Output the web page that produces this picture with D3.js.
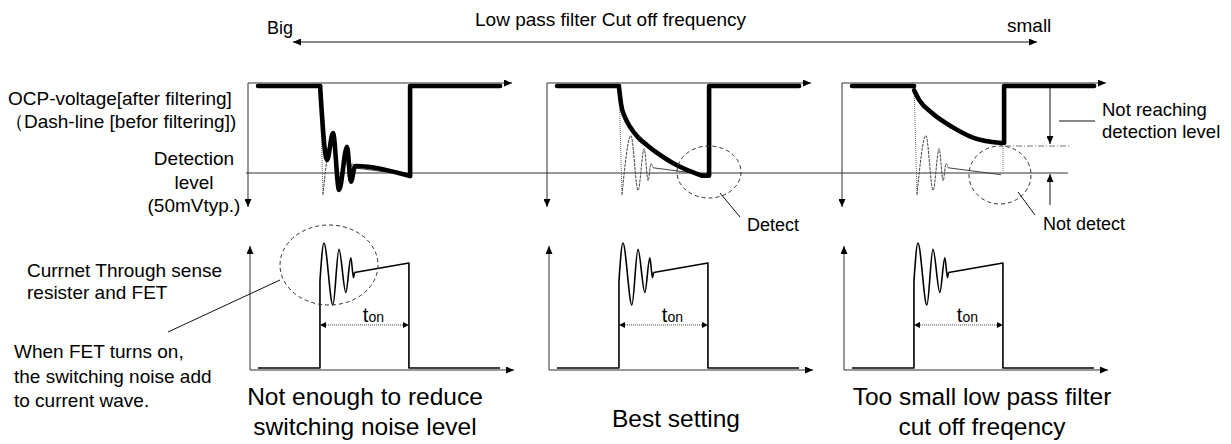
<!DOCTYPE html>
<html>
<head>
<meta charset="utf-8">
<script src="https://d3js.org/d3.v7.min.js"></script>
<style>
  body { margin: 0; background: #fff; }
  text { font-family: Arial, "Liberation Sans", sans-serif; fill: #000; }
</style>
</head>
<body>
<div id="chart"></div>
<script>
// ---- data (time 0..100 across a panel, level 1 = signal high / pulse top, 0 = detection level / zero current)
var topLabels = ["Big", "Low pass filter Cut off frequency", "small"];
var leftLabels = ["OCP-voltage[after filtering]", "（Dash-line [befor filtering])"];
var levelLabels = ["Detection", "level", "(50mVtyp.)"];
var currentLabels = ["Currnet Through sense", "resister and FET"];
var noteLabels = ["When FET turns on,", "the switching noise add", "to current wave."];
var captions = [["Not enough to reduce", "switching noise level"], ["Best setting"], ["Too small low pass filter", "cut off freqency"]];
var detectLabels = ["", "Detect", "Not detect"];
var reachLabels = ["Not reaching", "detection level"];

// switching instants (top: OCP voltage, bottom: current)
var vStart = 3.8, vOn = 27.3, vOff = 61.4, vEnd = 95.5;
var iStart = 3.0, iOn = 26.5, iOff = 60.2, iEnd = 94.7;

// unfiltered voltage after turn on (dt, level), same for all panels
var noiseT = [0, 1.1, 4.5, 7.2, 9.5, 11.0, 12.1, 12.9, 33.0];
var noiseV = [1, -0.25, 0.43, -0.2, 0.28, -0.09, 0.11, 0.06, -0.02];

// filtered voltage after turn on, one series per panel
var filtT = [
  [0, 2.65, 4.9, 7.2, 10.2, 11.7, 13.3, 34.1],
  [0, 0.76, 2.27, 4.17, 7.2, 10.6, 14.0, 17.4, 21.2, 26.1, 31.4],
  [0, 1.9, 6.8, 14.4, 22.0, 33.0]
];
var filtV = [
  [1, 0.15, 0.46, -0.195, 0.30, -0.10, 0.08, -0.034],
  [0.98, 0.79, 0.64, 0.53, 0.41, 0.32, 0.24, 0.17, 0.10, 0.03, -0.03],
  [0.95, 0.84, 0.69, 0.53, 0.41, 0.345]
];
var reachLevel = 0.31;

// current ringing after turn on (dt, level), same for all panels
var ringT = [0, 1.5, 4.9, 7.2, 9.8, 11.7, 12.7, 13.1];
var ringV = [0.83, 1.19, 0.6, 1.13, 0.72, 1.05, 0.86, 0.91];
var tonLevel = 0.41;

// ---- layout
var topX0 = [248, 547, 842], botX0 = [250, 549, 844], panelW = 264;
var topAxisY = 83, topAxisBottom = 207, botAxisY = 370, botAxisTop = 246;

var svg = d3.select("#chart").append("svg")
    .attr("width", 1231).attr("height", 444);

var defs = svg.append("defs");
function addMarker(id, len, wid) {
  defs.append("marker").attr("id", id)
      .attr("viewBox", "0 0 10 10").attr("preserveAspectRatio", "none")
      .attr("refX", 10).attr("refY", 5)
      .attr("markerUnits", "userSpaceOnUse")
      .attr("markerWidth", len).attr("markerHeight", wid)
      .attr("orient", "auto-start-reverse")
    .append("path").attr("d", "M0,0L10,5L0,10z").attr("fill", "#000");
}
addMarker("arr", 8, 7);
addMarker("arrS", 6, 6);
addMarker("arrD", 8, 7);

function line(x1, y1, x2, y2) {
  return svg.append("line").attr("x1", x1).attr("y1", y1).attr("x2", x2).attr("y2", y2)
      .attr("stroke", "#111").attr("stroke-width", 1);
}
function label(x, y, str, size, anchor) {
  return svg.append("text").attr("x", x).attr("y", y)
      .attr("font-size", size).attr("text-anchor", anchor || "start").text(str);
}

var yTop = d3.scaleLinear().domain([0, 1]).range([173, 86]);
var yBot = d3.scaleLinear().domain([0, 1]).range([368, 263]);

var linear = d3.line().curve(d3.curveLinear);
var smooth = d3.line().curve(d3.curveMonotoneX);

// top frequency arrow
line(293, 42, 1037, 42).attr("marker-start", "url(#arr)").attr("marker-end", "url(#arr)");
label(267, 34, topLabels[0], 18);
label(475, 26, topLabels[1], 19);
label(1007, 32, topLabels[2], 19);

// left labels
label(8, 105, leftLabels[0], 19);
label(5, 128, leftLabels[1], 19);
levelLabels.forEach(function(s, i) { label(194, 165 + i * 23.5, s, 19, "middle"); });
label(27, 277, currentLabels[0], 19);
label(27, 299, currentLabels[1], 19);
noteLabels.forEach(function(s, i) { label(14, 358 + i * 24.5, s, 19); });

// detection level runs through all three panels
line(246, yTop(0), 1068, yTop(0)).attr("stroke", "#333");

for (var p = 0; p < 3; p++) {
  var xt = d3.scaleLinear().domain([0, 100]).range([topX0[p], topX0[p] + panelW]);
  var xb = d3.scaleLinear().domain([0, 100]).range([botX0[p], botX0[p] + panelW]);

  // ---- top axes
  line(xt(0), topAxisY, xt(100), topAxisY).attr("stroke", "#333").attr("marker-end", "url(#arr)");
  line(xt(0), topAxisY, xt(0), topAxisBottom).attr("stroke", "#333").attr("marker-end", "url(#arr)");

  // unfiltered (dash line)
  var nz = noiseT.map(function(t, i) { return [xt(vOn + t), yTop(noiseV[i])]; });
  svg.append("path").attr("d", linear(nz.slice(0, 2)))
      .attr("fill", "none").attr("stroke", "#666").attr("stroke-width", 1).attr("stroke-dasharray", "1,1");
  svg.append("path").attr("d", smooth(nz.slice(1, 8)))
      .attr("fill", "none").attr("stroke", "#444").attr("stroke-width", 1).attr("stroke-dasharray", "3,1");
  svg.append("path").attr("d", linear(nz.slice(7)))
      .attr("fill", "none").attr("stroke", "#444").attr("stroke-width", 1);

  // filtered (thick)
  var ft = filtT[p], fv = filtV[p], last = fv[fv.length - 1];
  var thick = function(sel) {
    return sel.attr("fill", "none").attr("stroke", "#000").attr("stroke-width", 4.6)
        .attr("stroke-linecap", "round").attr("stroke-linejoin", "round");
  };
  thick(svg.append("path").attr("d", linear([[xt(vStart), yTop(1)], [xt(vOn), yTop(1)]])));
  thick(svg.append("path").attr("d", smooth(ft.map(function(t, i) { return [xt(vOn + t), yTop(fv[i])]; }))));
  thick(svg.append("path").attr("d", linear([
    [xt(vOn + ft[ft.length - 1]), yTop(last)], [xt(vOff), yTop(last)],
    [xt(vOff), yTop(1)], [xt(vEnd), yTop(1)]])));

  // ---- bottom axes
  line(xb(0), botAxisY, xb(100), botAxisY).attr("stroke", "#333").attr("marker-end", "url(#arr)");
  line(xb(0), botAxisY, xb(0), botAxisTop).attr("stroke", "#333").attr("marker-end", "url(#arr)");

  // current waveform
  var cw = function(sel) {
    return sel.attr("fill", "none").attr("stroke", "#000").attr("stroke-width", 1.6)
        .attr("stroke-linejoin", "round");
  };
  cw(svg.append("path").attr("d", linear([[xb(iStart), yBot(0)], [xb(iOn), yBot(0)], [xb(iOn), yBot(ringV[0])]])));
  cw(svg.append("path").attr("d", smooth(ringT.map(function(t, i) { return [xb(iOn + t), yBot(ringV[i])]; }))));
  cw(svg.append("path").attr("d", linear([
    [xb(iOn + ringT[ringT.length - 1]), yBot(ringV[ringV.length - 1])], [xb(iOff), yBot(1)],
    [xb(iOff), yBot(0)], [xb(iEnd), yBot(0)]])));

  // t_on dimension
  line(xb(iOn), yBot(tonLevel), xb(iOff), yBot(tonLevel)).attr("stroke", "#444")
      .attr("stroke-dasharray", "1,1")
      .attr("marker-start", "url(#arrS)").attr("marker-end", "url(#arrS)");
  var ton = svg.append("text").attr("x", (xb(iOn) + xb(iOff)) / 2 + 9).attr("y", yBot(tonLevel) - 3)
      .attr("text-anchor", "middle");
  ton.append("tspan").attr("font-size", 20).text("t");
  ton.append("tspan").attr("font-size", 14).text("on");

  // caption
  var cx = [365, 676, 982][p];
  if (captions[p].length == 1) {
    label(cx, 427, captions[p][0], 24.5, "middle");
  } else {
    label(cx, 405, captions[p][0], 24.5, "middle");
    label(cx, 435, captions[p][1], 24.5, "middle");
  }
}

// ---- annotations
function ellipse(cx, cy, rx, ry) {
  svg.append("ellipse").attr("cx", cx).attr("cy", cy).attr("rx", rx).attr("ry", ry)
      .attr("fill", "none").attr("stroke", "#333").attr("stroke-width", 1).attr("stroke-dasharray", "4,3");
}
ellipse(329, 265, 49, 40);
line(168, 332, 280, 280);

ellipse(709, 172, 32, 26);
line(720, 193, 740, 217);
label(747, 231, detectLabels[1], 18);

ellipse(1000, 175, 31, 29);
line(1018, 192, 1035, 215);
label(1043, 230, detectLabels[2], 18);

// not reaching dimension in panel 3
line(1005, yTop(reachLevel), 1070, yTop(reachLevel)).attr("stroke", "#777").attr("stroke-dasharray", "6,2,1,2");
line(1003, yTop(reachLevel), 1003, yTop(0)).attr("stroke", "#777").attr("stroke-dasharray", "1,1");
line(1050, 88, 1050, yTop(reachLevel) - 2).attr("marker-end", "url(#arrD)");
line(1050, 205, 1050, yTop(0) + 1).attr("marker-end", "url(#arrD)");
line(1059, 121, 1095, 121);
label(1102, 116, reachLabels[0], 18.5);
label(1102, 138, reachLabels[1], 18.5);
</script>
</body>
</html>
